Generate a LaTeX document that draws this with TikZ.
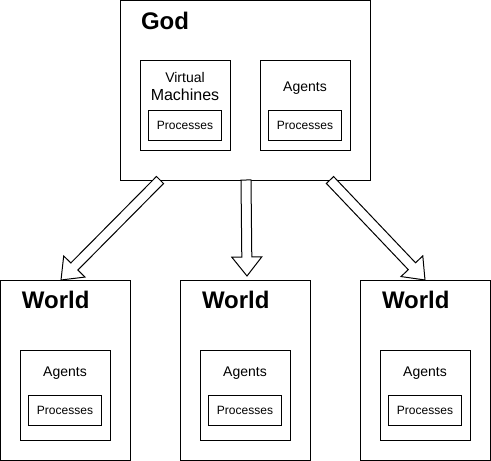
\documentclass[tikz,border=0pt]{standalone}
\usepackage{fontspec}
\setmainfont{Liberation Sans}
\usetikzlibrary{positioning,calc}
\tikzstyle{box}=[draw,line width=1pt,inner sep=0pt,outer sep=0pt]
\tikzstyle{txt}=[inner sep=0pt,outer sep=0pt,font=\fontsize{14}{16}\selectfont]
\tikzstyle{head}=[inner sep=0pt,outer sep=0pt,font=\fontsize{24}{28}\selectfont\bfseries]
\tikzstyle{proc}=[box,minimum width=73pt,minimum height=30pt,font=\fontsize{12}{14}\selectfont]
\tikzstyle{fat}=[draw,line width=1pt,fill=white,
  to path={($(\tikztostart)!5pt!90:(\tikztotarget)$)
    -- ($(\tikztotarget)!19pt!(\tikztostart)!5pt!-90:(\tikztostart)$)
    -- ($(\tikztotarget)!19pt!(\tikztostart)!15pt!-90:(\tikztostart)$)
    -- (\tikztotarget)
    -- ($(\tikztotarget)!19pt!(\tikztostart)!15pt!90:(\tikztostart)$)
    -- ($(\tikztotarget)!19pt!(\tikztostart)!5pt!90:(\tikztostart)$)
    -- ($(\tikztostart)!5pt!-90:(\tikztotarget)$) -- cycle}]

\begin{document}
\begin{tikzpicture}[x=1pt,y=1pt]
  \useasboundingbox (0,0) rectangle (491,-461);
  \node[box,minimum width=250pt,minimum height=180pt] (god) at (245,-90) {};
  \node[head] (godt) [below right=12pt and 21pt of god.north west] {God};
  \node[box,minimum width=90pt,minimum height=90pt] (vm) [below right=60pt and 20pt of god.north west] {};
  \node[box,minimum width=90pt,minimum height=90pt] (ga) [right=30pt of vm] {};
  \node[txt] (virt) [below=12.5pt of vm.north] {Virtual};
  \node[txt,font=\fontsize{16}{18}\selectfont] (mach) [below=6.5pt of virt] {Machines};
  \node[proc] (vmp) [below=50pt of vm.north] {Processes};
  \node[txt] (gat) [below=21.5pt of ga.north] {Agents};
  \node[proc] (gap) [below=50pt of ga.north] {Processes};

  \node[box,minimum width=130pt,minimum height=180pt] (w2) [below=100pt of god] {};
  \node[box,minimum width=130pt,minimum height=180pt] (w1) [left=50pt of w2] {};
  \node[box,minimum width=130pt,minimum height=180pt] (w3) [right=50pt of w2] {};
  \node[head] (w1t) [below right=11.5pt and 22pt of w1.north west] {World};
  \node[head] (w2t) [below right=11.5pt and 22pt of w2.north west] {World};
  \node[head] (w3t) [below right=11.5pt and 22pt of w3.north west] {World};
  \node[box,minimum width=90pt,minimum height=90pt] (a1) [below right=70pt and 20pt of w1.north west] {};
  \node[box,minimum width=90pt,minimum height=90pt] (a2) [below right=70pt and 20pt of w2.north west] {};
  \node[box,minimum width=90pt,minimum height=90pt] (a3) [below right=70pt and 20pt of w3.north west] {};
  \node[txt] (a1t) [below=16.5pt of a1.north] {Agents};
  \node[txt] (a2t) [below=16.5pt of a2.north] {Agents};
  \node[txt] (a3t) [below=16.5pt of a3.north] {Agents};
  \node[proc] (p1) [below=45pt of a1.north] {Processes};
  \node[proc] (p2) [below=45pt of a2.north] {Processes};
  \node[proc] (p3) [below=45pt of a3.north] {Processes};

  \path ([xshift=-85pt]god.south) edge[fat] ([xshift=-4pt]w1.north)
        ([xshift=1pt]god.south) edge[fat] ([xshift=2pt,yshift=4pt]w2.north)
        ([xshift=85pt]god.south) edge[fat] (w3.north);
\end{tikzpicture}
\end{document}
